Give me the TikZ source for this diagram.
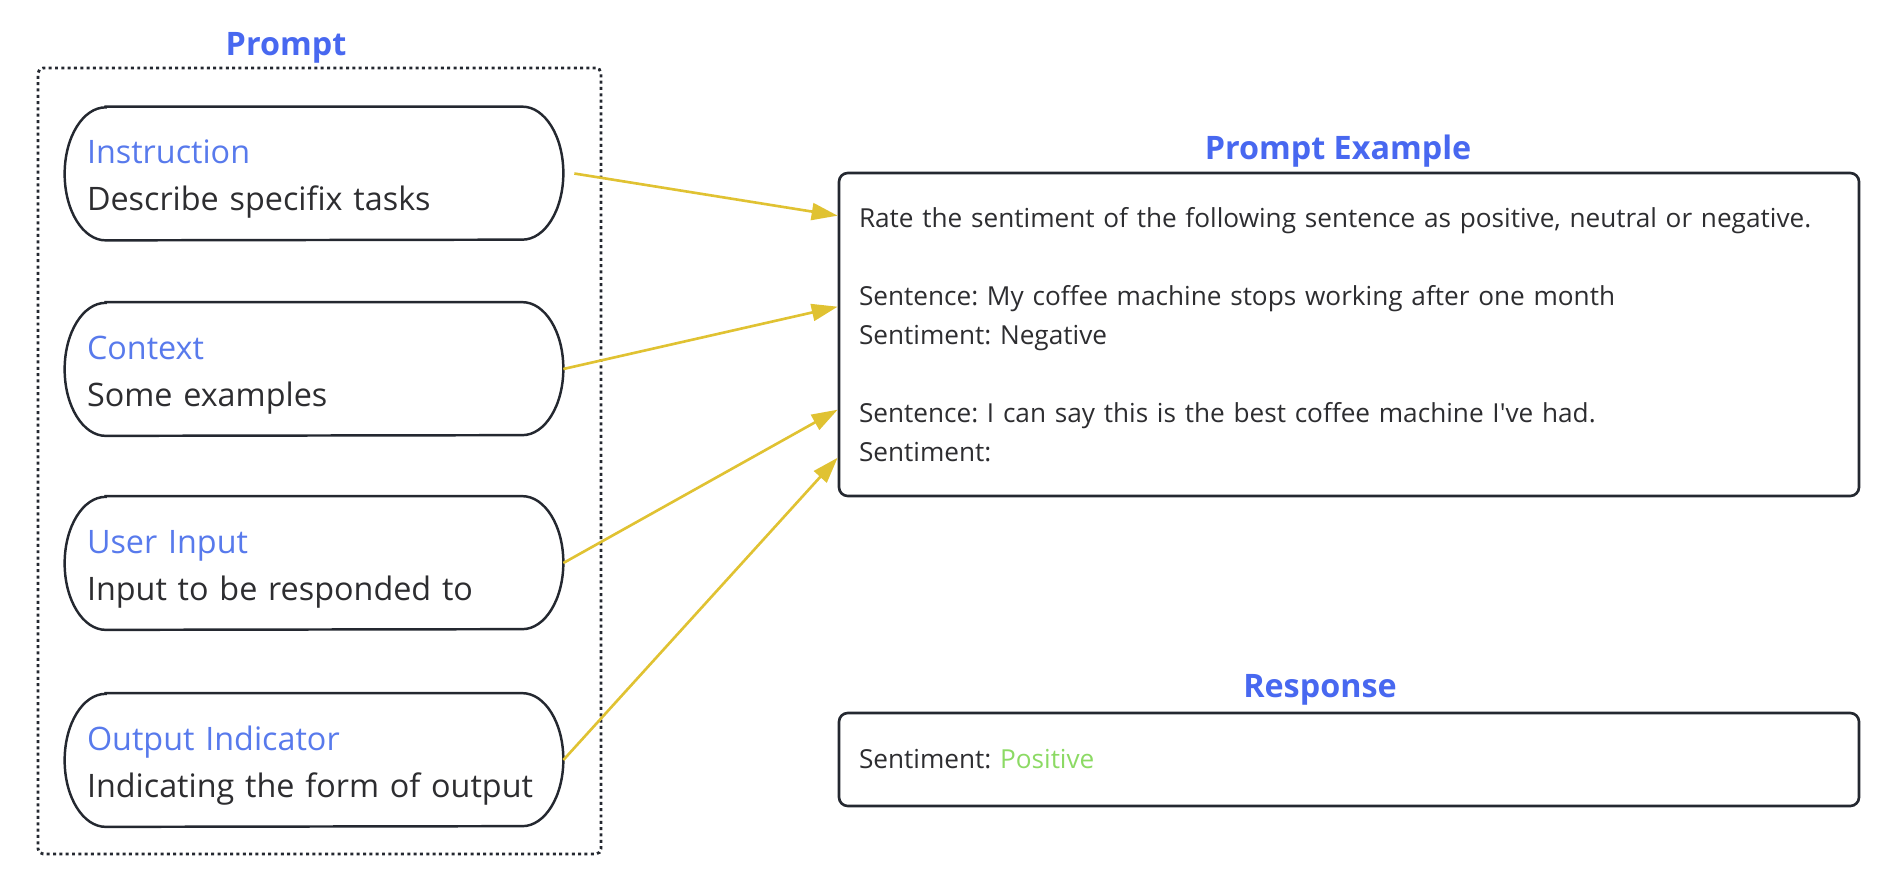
\documentclass[tikz,border=0pt]{standalone}
\usepackage{fontspec}
\setmainfont{Open Sans}
\usetikzlibrary{positioning}
\usetikzlibrary{calc}
\usetikzlibrary{arrows.meta}
\frenchspacing

\definecolor{titleblue}{RGB}{72,104,240}
\definecolor{labelblue}{RGB}{88,122,236}
\definecolor{textgray}{RGB}{45,45,48}
\definecolor{edgegray}{RGB}{36,40,48}
\definecolor{feedyellow}{RGB}{224,194,50}
\definecolor{posgreen}{RGB}{140,218,100}

\tikzset{
  heading/.style={font=\fontsize{18.4}{23}\selectfont\bfseries, text=titleblue, anchor=base, inner sep=0pt},
  part/.style={minimum width=9.96cm, minimum height=2.66cm, text width=9.08cm, inner xsep=0.44cm, inner ysep=0pt, align=left, text=textgray, font=\fontsize{18.4}{26.7}\selectfont},
  partline/.style={draw=edgegray, line width=1.4pt},
  sample/.style={draw=edgegray, line width=1.5pt, rounded corners=5pt, minimum width=20.4cm, text width=19.6cm, inner xsep=0.4cm, align=left, text=textgray, font=\fontsize{14.9}{22.2}\selectfont},
  feed/.style={draw=feedyellow, line width=1.5pt, -{Triangle[length=0.52cm,width=0.34cm]}},
}

\begin{document}
\begin{tikzpicture}
\useasboundingbox (0,0) rectangle (37.72,-17.6);

\node[heading](promptT) at (5.72,-1.1){Prompt};
\node[draw=edgegray, line width=1.6pt, dash pattern=on 1.7pt off 1.9pt, rounded corners=3pt, minimum width=11.26cm, minimum height=15.72cm](frame) at (6.39,-9.22){};

\node[part](ins) at (6.28,-3.47){\rule{0pt}{20pt}{\color{labelblue}Instruction}\\Describe specifix tasks};
\node[part](ctx) at (6.28,-7.38){\rule{0pt}{20pt}{\color{labelblue}Context}\\Some examples};
\node[part](usr) at (6.28,-11.26){\rule{0pt}{20pt}{\color{labelblue}User Input}\\Input to be responded to};
\node[part](out) at (6.28,-15.2){\rule{0pt}{20pt}{\color{labelblue}Output Indicator}\\Indicating the form of output};

\foreach \p in {ins,ctx,usr,out}
  \draw[partline] ([xshift=0.82cm]\p.north west) -- ([xshift=-0.82cm]\p.north east)
    arc[start angle=90, end angle=-90, x radius=0.82cm, y radius=1.33cm]
    -- ([xshift=0.82cm]\p.south west)
    arc[start angle=270, end angle=90, x radius=0.82cm, y radius=1.33cm] -- cycle;

\node[heading](exT) at (26.76,-3.18){Prompt Example};
\node[sample, minimum height=6.46cm](ex) at (26.98,-6.69){Rate the sentiment of the following sentence as positive, neutral or negative.\\[22.2pt]
Sentence: My coffee machine stops working after one month\\
Sentiment: Negative\\[22.2pt]
Sentence: I can say this is the best coffee machine I\textquotesingle ve had.\\
Sentiment:};

\node[heading](resT) at (26.4,-13.94){Response};
\node[sample, minimum height=1.86cm](res) at (26.98,-15.19){Sentiment: {\color{posgreen}Positive}};

\coordinate (exA) at ([yshift=-0.88cm]ex.north west);
\coordinate (exB) at ([yshift=-2.7cm]ex.north west);
\coordinate (exC) at ([yshift=-4.76cm]ex.north west);
\coordinate (exD) at ([yshift=-5.72cm]ex.north west);

\path
([xshift=0.22cm]ins.east) edge[feed] (exA)
(ctx.east) edge[feed] (exB)
(usr.east) edge[feed] (exC)
(out.east) edge[feed] (exD);
\end{tikzpicture}
\end{document}
